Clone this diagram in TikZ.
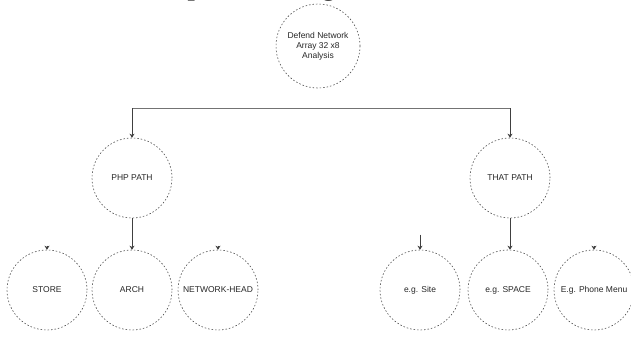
\documentclass[tikz,border=0pt]{standalone}
\usepackage{fontspec}
\setmainfont{Liberation Sans}
\newfontfamily\titlefont{Liberation Serif}
\usetikzlibrary{arrows.meta}
\tikzset{
  circ/.style={circle, draw=black!70, dashed, dash pattern=on 1.5pt off 2pt, line width=0.6pt, minimum size=80pt, inner sep=0pt, align=center, font=\fontsize{8.5}{10}\selectfont, text=black!85},
  topcirc/.style={circ, minimum size=84pt},
  conn/.style={draw=black!75, line width=0.6pt, -{Stealth[length=4pt,width=5pt]}},
  bar/.style={draw=black!55, line width=0.6pt}
}
\begin{document}
\begin{tikzpicture}[x=1pt,y=-1pt]
\useasboundingbox (0,0) rectangle (631,338);
\clip (0,0) rectangle (631,338);
\node[font=\titlefont\bfseries\fontsize{26}{28}\selectfont, anchor=base west, inner sep=0pt] (title) at (144,-5) {Simple Tree Diagram};
\node[topcirc] (root) at (318,46) {Defend Network\\Array 32 x8\\Analysis};
\node[circ] (php) at (132,178) {PHP PATH};
\node[circ] (that) at (510,178) {THAT PATH};
\node[circ] (store) at (47,290) {STORE};
\node[circ] (arch) at (132,290) {ARCH};
\node[circ] (net) at (218,290) {NETWORK-HEAD};
\node[circ] (site) at (420,290) {e.g. Site};
\node[circ] (space) at (508,290) {e.g. SPACE};
\node[circ] (phone) at (594,290) {E.g. Phone Menu};
\coordinate (jl) at (132,108);
\coordinate (jr) at (510,108);
\draw[bar] (jl) -- (jr);
\draw[conn] (jl) -- (php.north);
\draw[conn] (jr) -- (that.north);
\draw[conn] (php.south) -- (php.south |- arch.north);
\draw[conn] (that.south) -- (that.south |- space.north);
\coordinate (sitein) at ([yshift=15pt]site.north);
\draw[conn] (sitein) -- (site.north);
\foreach \n in {store,net,phone}{
  \coordinate (\n in) at ([yshift=4pt]\n.north);
  \draw[conn] (\n in) -- (\n.north);
}
\end{tikzpicture}
\end{document}
